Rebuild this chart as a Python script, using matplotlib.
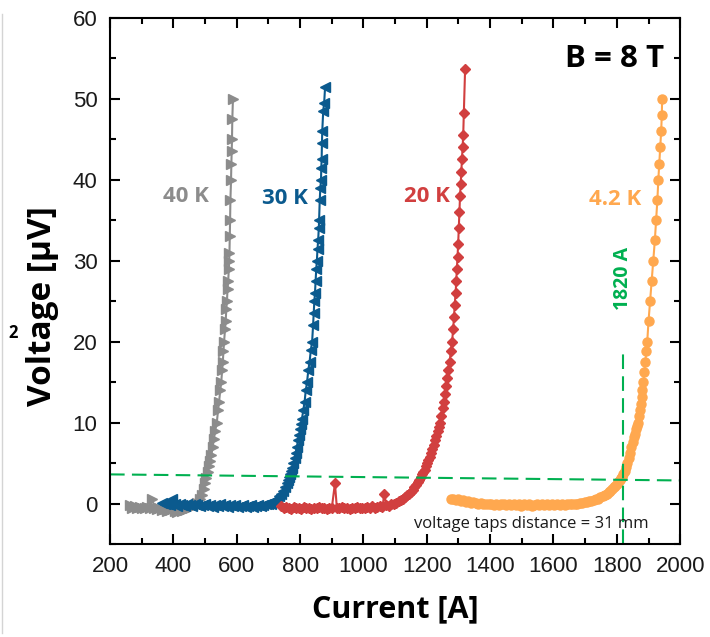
import numpy as np
import matplotlib.pyplot as plt
from matplotlib.lines import Line2D
from matplotlib.ticker import MultipleLocator

# V-I transitions of the sample at B = 8 T, one curve per temperature
i_40K = [262, 270, 278, 286, 294, 302, 310, 318, 326, 333, 340, 348, 356, 364, 372, 380, 388, 396,
         404, 412, 420, 428, 436, 444, 452, 460, 468, 476, 484, 490, 496, 500, 504, 508, 512, 516,
         520, 524, 528, 532, 537, 541, 544, 548, 551, 554, 556, 558, 560, 563, 565, 567, 569, 571,
         573, 575, 576, 577, 578, 579, 580, 582, 583, 584, 585, 586, 588]
v_40K = [-0.2, -0.6, -0.3, -0.5, -0.4, -0.6, -0.5, -0.4, -0.6, 0.6, -0.5, -0.7, -0.6, -0.8, -0.7, -0.9, -0.8, -0.7,
         -0.9, -1.0, -0.8, -0.9, -0.8, -0.7, -0.6, -0.4, -0.2, 0.1, 0.6, 1.1, 1.8, 2.5, 3.2, 3.9, 4.6, 5.2,
         6.0, 7.0, 8.0, 9.0, 10.0, 11.5, 12.5, 14.0, 15.0, 16.5, 17.5, 18.8, 20.0, 21.5, 22.5, 24.0, 25.0, 26.5,
         27.5, 29.0, 30.0, 31.0, 33.0, 35.0, 37.5, 40.0, 42.0, 43.5, 45.0, 47.5, 50.0]

i_30K = [365, 372, 380, 388, 396, 404, 412, 420, 428, 436, 444, 452, 460, 468, 476, 484, 492, 500,
         508, 516, 524, 532, 540, 548, 556, 564, 572, 580, 588, 596, 604, 612, 620, 628, 636, 644,
         652, 660, 668, 676, 684, 692, 700, 708, 715, 721, 727, 733, 740, 746, 753, 758, 762, 766,
         769, 772, 775, 779, 783, 786, 790, 793, 797, 800, 803, 806, 810, 814, 818, 822, 826, 830,
         834, 838, 841, 843, 845, 847, 849, 851, 853, 855, 857, 859, 860, 862, 864, 866, 867, 868,
         869, 870, 873, 876, 879]
v_30K = [0.1, -0.1, 0.0, -0.2, 0.6, -0.1, -0.3, -0.1, -0.2, -0.3, -0.1, -0.2, -0.3, -0.1, -0.2, -0.3, -0.2, -0.1,
         -0.3, -0.2, -0.4, -0.2, -0.3, -0.1, -0.3, -0.2, -0.4, -0.2, -0.3, -0.2, -0.4, -0.3, -0.2, -0.4, -0.3, -0.2,
         -0.4, -0.3, -0.2, -0.3, -0.2, -0.1, -0.1, 0.0, 0.2, 0.4, 0.6, 0.9, 1.2, 1.6, 2.0, 2.5, 2.9, 3.3,
         3.6, 4.0, 4.4, 5.0, 5.6, 6.3, 7.0, 7.8, 8.5, 9.2, 9.8, 10.5, 11.5, 12.5, 14.0, 15.0, 16.5, 17.5,
         19.0, 20.0, 22.0, 23.5, 25.0, 26.0, 27.5, 29.0, 30.0, 31.5, 32.5, 34.0, 35.0, 37.5, 39.0, 40.0, 41.5, 42.5,
         44.5, 46.0, 48.5, 49.5, 51.5]

i_20K = [740, 748, 756, 764, 772, 780, 788, 796, 804, 812, 820, 828, 836, 844, 852, 860, 868, 876,
         884, 892, 900, 910, 916, 924, 932, 940, 948, 956, 964, 972, 980, 988, 996, 1004, 1012, 1020,
         1028, 1036, 1044, 1052, 1060, 1066, 1072, 1080, 1088, 1096, 1104, 1112, 1120, 1126, 1132, 1138,
         1144, 1150, 1156, 1161, 1166, 1171, 1176, 1181, 1185, 1189, 1193, 1197, 1201, 1205, 1210, 1214,
         1218, 1222, 1226, 1230, 1234, 1238, 1242, 1246, 1250, 1254, 1258, 1262, 1265, 1268, 1272, 1276,
         1280, 1283, 1286, 1288, 1291, 1293, 1295, 1297, 1299, 1301, 1303, 1305, 1307, 1309, 1311, 1313,
         1315, 1317, 1321]
v_20K = [-0.3, -0.6, -0.4, -0.5, -0.7, -0.4, -0.6, -0.5, -0.7, -0.4, -0.6, -0.5, -0.7, -0.5, -0.6, -0.4, -0.6, -0.5,
         -0.7, -0.5, -0.6, 2.5, -0.5, -0.6, -0.4, -0.6, -0.5, -0.7, -0.5, -0.6, -0.4, -0.6, -0.5, -0.6, -0.4, -0.5,
         -0.3, -0.5, -0.4, -0.3, -0.4, 1.2, -0.2, -0.3, -0.1, 0.0, 0.1, 0.3, 0.4, 0.6, 0.8, 1.0,
         1.2, 1.4, 1.7, 2.0, 2.3, 2.6, 2.9, 3.3, 3.6, 3.9, 4.2, 4.6, 5.0, 5.4, 5.8, 6.2,
         6.7, 7.2, 7.8, 8.3, 8.9, 9.5, 10.0, 10.8, 11.8, 12.5, 13.5, 14.5, 15.5, 16.5, 17.5, 18.8,
         20.0, 21.5, 23.0, 24.5, 26.0, 27.5, 29.0, 30.5, 32.0, 34.0, 36.0, 38.0, 39.5, 41.0, 42.5, 44.0,
         45.5, 48.3, 53.7]

i_4K = [1275, 1283, 1291, 1299, 1307, 1315, 1323, 1331, 1339, 1347, 1355, 1363, 1371, 1379, 1387, 1395,
        1403, 1411, 1419, 1427, 1435, 1443, 1451, 1459, 1467, 1475, 1483, 1491, 1499, 1507, 1515, 1523,
        1531, 1539, 1547, 1555, 1563, 1571, 1579, 1587, 1595, 1603, 1611, 1619, 1627, 1635, 1643, 1651,
        1659, 1667, 1675, 1683, 1691, 1699, 1706, 1713, 1720, 1727, 1734, 1741, 1748, 1755, 1762, 1768,
        1774, 1779, 1785, 1790, 1795, 1800, 1805, 1810, 1814, 1817, 1821, 1825, 1829, 1833, 1837, 1842,
        1846, 1850, 1853, 1856, 1860, 1864, 1867, 1869, 1872, 1875, 1878, 1881, 1884, 1887, 1890, 1893,
        1896, 1900, 1905, 1910, 1915, 1920, 1924, 1928, 1931, 1934, 1937, 1940, 1942, 1943]
v_4K = [0.5, 0.6, 0.4, 0.5, 0.3, 0.4, 0.2, 0.3, 0.1, 0.2, 0.1, 0.0, 0.1, -0.1, 0.0, -0.1,
        0.0, -0.2, -0.1, -0.2, 0.0, -0.1, -0.2, -0.1, -0.2, -0.1, -0.2, -0.1, -0.3, -0.1, -0.2, -0.1,
        -0.3, -0.2, -0.1, -0.2, -0.1, -0.2, -0.1, -0.2, -0.1, -0.2, -0.1, -0.2, -0.1, -0.2, -0.1, 0.0,
        -0.1, 0.0, 0.0, 0.1, 0.1, 0.2, 0.2, 0.3, 0.3, 0.4, 0.5, 0.6, 0.8, 0.9, 1.1, 1.2,
        1.4, 1.5, 1.8, 2.0, 2.2, 2.4, 2.7, 2.9, 3.1, 3.3, 3.7, 4.0, 4.5, 5.0, 5.6, 6.2,
        7.0, 7.6, 8.2, 8.6, 9.2, 9.6, 10.0, 10.8, 11.5, 12.3, 13.2, 14.0, 15.0, 16.3, 17.5, 18.8,
        20.0, 22.5, 25.0, 27.5, 30.0, 32.5, 35.0, 37.5, 40.0, 42.0, 44.0, 46.0, 48.0, 50.0]

# criterion line and the critical current at 4.2 K
crit_i = [200, 2000]
crit_v = [3.6, 2.85]
ic_4K = 1820

fig = plt.figure(figsize=(7.1, 6.37), dpi=100)
ax = fig.add_axes([0.155, 0.146, 0.803, 0.826])

c_grey = '#8c8c8c'
c_blue = '#0b5a8e'
c_red = '#d13f3f'
c_orange = '#ffa84f'
c_green = '#00b050'

ax.plot(i_40K, v_40K, color=c_grey, marker='>', ms=6.5, lw=1.5, mec=c_grey)
ax.plot(i_30K, v_30K, color=c_blue, marker='<', ms=6.5, lw=1.5, mec=c_blue)
ax.plot(i_20K, v_20K, color=c_red, marker='D', ms=5.5, lw=1.5, mec=c_red)
ax.plot(i_4K, v_4K, color=c_orange, marker='o', ms=6.5, lw=1.5, mec=c_orange)

ax.plot(crit_i, crit_v, color=c_green, lw=1.5, dashes=(7, 3.5))
ax.plot([ic_4K, ic_4K], [-5, 18.6], color=c_green, lw=1.5, dashes=(7, 3.5))

ax.set_xlim(200, 2000)
ax.set_ylim(-5, 60)
ax.xaxis.set_major_locator(MultipleLocator(200))
ax.xaxis.set_minor_locator(MultipleLocator(100))
ax.yaxis.set_major_locator(MultipleLocator(10))
ax.yaxis.set_minor_locator(MultipleLocator(5))
ax.tick_params(which='both', direction='in', top=True, right=True, width=1.5)
ax.tick_params(which='major', length=7, pad=9, labelsize=16, labelcolor='#1a1a1a')
ax.tick_params(which='minor', length=4)
for lab in ax.get_xticklabels() + ax.get_yticklabels():
    lab.set_family('Liberation Sans')
for sp in ax.spines.values():
    sp.set_linewidth(1.5)

lab_font = dict(family='Open Sans', weight='bold')
ax.set_xlabel('Current [A]', fontsize=22, labelpad=12, **lab_font)
ax.set_ylabel('Voltage [μV]', fontsize=24, **lab_font)
ax.yaxis.set_label_coords(-0.089, 0.452)

ax.text(440, 37.9, '40 K', color=c_grey, fontsize=16, ha='center', va='center', **lab_font)
ax.text(753, 37.7, '30 K', color=c_blue, fontsize=16, ha='center', va='center', **lab_font)
ax.text(1201, 37.9, '20 K', color=c_red, fontsize=16, ha='center', va='center', **lab_font)
ax.text(1795, 37.5, '4.2 K', color=c_orange, fontsize=16, ha='center', va='center', **lab_font)
ax.text(1792, 54.9, 'B = 8 T', color='black', fontsize=22.5, ha='center', va='center', **lab_font)
ax.text(ic_4K, 27.8, '%d A' % ic_4K, color=c_green, fontsize=14, rotation=90,
        ha='center', va='center', **lab_font)
ax.text(1530, -2.5, 'voltage taps distance = 31 mm', color='#1a1a1a', fontsize=12,
        family='Open Sans', weight='medium', ha='center', va='center')

fig.text(0.012, 0.477, '2', fontsize=12, weight='bold', family='Open Sans', va='center')
fig.add_artist(Line2D([2 / 710, 2 / 710], [4 / 637, 623 / 637], color='#d4d4d4', lw=1))

fig.savefig('out.png', dpi=100)
